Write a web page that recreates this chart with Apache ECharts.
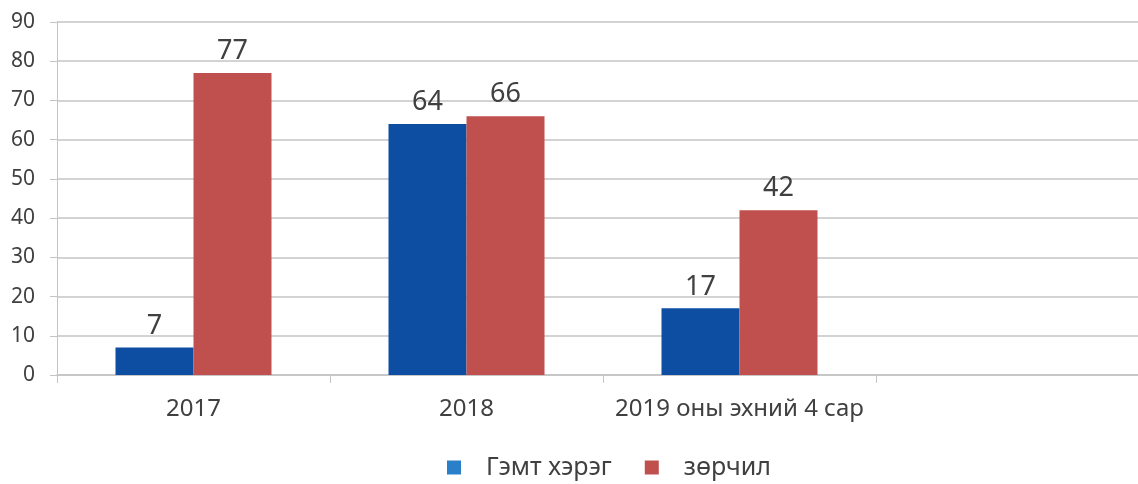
<!DOCTYPE html>
<html>
<head>
<meta charset="utf-8">
<script src="https://cdn.jsdelivr.net/npm/echarts@6/dist/echarts.min.js"></script>
<style>
  html, body { margin: 0; padding: 0; background: #fff; }
  #chart { width: 1138px; height: 484px; }
</style>
</head>
<body>
<div id="chart"></div>
<script>
// categories (the last slot is empty in the original chart)
const categories = ["2017", "2018", "2019 оны эхний 4 сар", ""];
const crimes = [7, 64, 17, null];       // Гэмт хэрэг
const violations = [77, 66, 42, null];  // зөрчил
const seriesNames = ["Гэмт хэрэг", "зөрчил"];

const font = "'Noto Sans', 'Open Sans', sans-serif";
const textColor = "#404040";
const lineColor = "#c4c4c4";

const chart = echarts.init(document.getElementById("chart"));
const barLabel = { show: true, position: "top", distance: 8, fontSize: 27, color: textColor, fontFamily: font };

chart.setOption({
  animation: false,
  textStyle: { fontFamily: font },
  // plot runs past the right edge: 4 slots of 273px from x=57
  grid: { left: 57, width: 1092, top: 22, bottom: 109, containLabel: false, outerBoundsMode: "none" },
  legend: {
    top: 455,
    left: 447,
    icon: "rect",
    itemWidth: 14,
    itemHeight: 14,
    itemGap: 33,
    padding: 0,
    textStyle: { fontSize: 25, color: textColor, padding: [0, 0, 0, 20] },
    data: [
      { name: seriesNames[0], itemStyle: { color: "#2a7fc9" } },
      { name: seriesNames[1], itemStyle: { color: "#c0504d" } },
    ],
  },
  xAxis: {
    type: "category",
    data: categories,
    axisLine: { lineStyle: { color: lineColor, width: 1.5 } },
    axisTick: { show: true, interval: 0, length: 8, lineStyle: { color: lineColor } },
    axisLabel: { interval: 0, fontSize: 24, color: textColor, margin: 22 },
  },
  yAxis: {
    type: "value",
    min: 0,
    max: 90,
    interval: 10,
    axisLine: { show: true, lineStyle: { color: lineColor } },
    axisTick: { show: true, length: 7, lineStyle: { color: lineColor } },
    axisLabel: { fontSize: 21, color: textColor, margin: 22 },
    splitLine: { lineStyle: { color: lineColor, width: 1.5 } },
  },
  series: [
    {
      name: seriesNames[0],
      type: "bar",
      data: crimes,
      barWidth: 78,
      barGap: "0%",
      itemStyle: { color: "#0d4ea3" },
      label: barLabel,
    },
    {
      name: seriesNames[1],
      type: "bar",
      data: violations,
      barWidth: 78,
      barGap: "0%",
      itemStyle: { color: "#c0504d" },
      label: barLabel,
    },
  ],
});
</script>
</body>
</html>
